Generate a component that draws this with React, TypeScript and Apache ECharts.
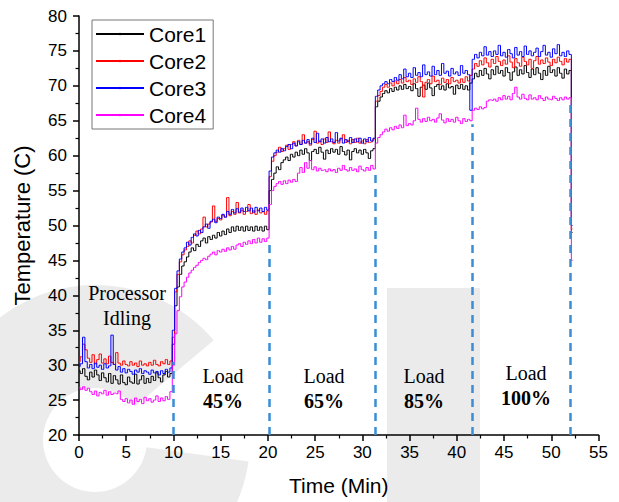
import React, { useEffect, useRef } from "react";
import * as echarts from "echarts";

// sampling step of the temperature log (minutes)
const SAMPLE_STEP_MIN = 0.25;

// ---- Core1 (black) ----
const core1Idle = [29.2,28.8,29.5,28.4,27.9,29.0,28.3,29.3,28.6,27.8, 28.9,28.2,27.6,28.8,27.4,28.5,27.9,27.3,28.6,27.5, 27.2,28.3,27.6,27.4,28.7,27.3,27.9,28.5,27.4,28.1, 27.5,28.4,27.8,28.9,28.2,27.6,28.6,29.1,28.3,28.8];
const core1Load45 = [33,38.5,41.2,43.0, 44.2,44.8,45.5,46.2, 46.8,46.4,47.3,47.0, 47.8,48.2,47.5,48.4, 48.0,48.6,48.2,49.0, 48.5,49.2,48.7,49.5, 49.0,49.8,49.2,49.9, 49.3,49.8,49.2,49.9, 49.3,49.8,49.2,49.9, 49.3,49.8,49.2,49.9, 49.4];
const core1Load65 = [55.0,56.6,57.5,58.4,58.0,59.0,59.4,59.8,59.3,60.2, 59.8,60.5,60.0,60.8,60.2,61.0,60.4,59.3,60.6,60.9, 60.3,61.2,60.5,59.5,60.8,60.3,61.0,60.5,60.9,60.2, 61.3,60.6,60.1,60.8,59.4,60.6,61.0,60.4,60.8,60.2, 60.9,60.4,59.6,60.7,61.0];
const core1Load85 = [67.0,67.8,68.4,68.9,69.3,69.0,69.6,69.2,69.8,69.4, 70.0,69.5,70.2,69.6,69.9,69.3,70.3,69.6,68.5,69.8, 70.1,69.5,70.4,69.7,68.6,69.9,70.2,69.5,70.0,69.4, 70.3,69.7,69.9,68.8,70.1,69.6,70.2,69.5,70.0,69.4, 70.4];
const core1Load100 = [71.0,71.8,71.3,72.2,71.5,72.5,71.7,71.0,72.3,71.6, 72.8,71.8,72.2,71.4,72.6,71.9,70.8,72.0,72.7,71.5, 72.3,71.7,72.9,71.9,71.2,72.4,71.6,72.6,71.8,70.9, 72.2,71.5,72.8,71.9,72.3,71.4,72.6,71.8,71.1,72.4, 71.7,72.2];
const core1After = [49.0];

// ---- Core2 (red) ----
const core2Idle = [30.5,31.2,33.0,32.2,31.0,30.4,31.5,30.2,30.8,31.6, 30.3,30.9,30.2,31.3,30.4,30.1,31.8,30.3,30.0,30.6, 30.1,29.9,30.5,30.0,30.3,29.8,30.6,30.0,30.2,29.9, 30.4,30.0,30.7,30.1,29.9,30.5,30.2,30.8,30.1,30.6];
const core2Load45 = [34,40.5,43.0,44.8, 45.8,46.5,47.0,47.8, 47.5,48.6,49.2,48.8, 49.5,51.2,49.8,50.2, 50.5,52.8,50.6,51.0, 50.8,51.5,51.2,54.0, 51.4,52.0,51.6,53.3, 51.8,52.2,51.6,52.0, 53.0,51.7,52.1,51.6, 52.2,51.8,52.0,51.6, 52.1];
const core2Load65 = [57.0,59.2,60.0,60.5,61.2,60.6,61.0,61.5,60.9,61.6, 62.0,61.4,62.2,61.6,63.0,61.8,62.0,61.5,62.3,63.5, 61.8,62.1,61.6,62.4,61.9,63.4,62.0,61.7,62.2,61.8, 62.4,63.0,61.9,62.2,61.7,62.3,61.9,62.5,61.8,62.1, 61.7,62.3,61.9,62.0,62.4];
const core2Load85 = [67.8,68.6,69.2,69.8,70.2,69.8,70.4,70.0,70.7,70.3, 70.9,70.4,71.2,70.6,70.8,70.2,71.0,70.5,71.3,70.6, 68.4,70.5,70.9,70.3,71.4,70.6,70.8,70.2,71.1,70.5, 70.9,70.3,71.2,70.6,70.8,70.4,71.0,70.5,71.3,70.7, 71.5];
const core2Load100 = [72.4,73.2,72.8,73.6,73.0,74.0,73.3,72.7,73.8,73.2, 74.2,73.5,72.9,73.7,73.1,74.3,73.4,72.6,73.9,73.3, 72.8,74.1,73.5,73.0,73.8,72.5,73.6,74.2,73.1,73.7, 73.2,74.0,73.4,72.9,73.8,73.3,74.1,73.5,73.0,73.9, 73.4,73.8];
const core2After = [49.5];

// ---- Core3 (blue) ----
const core3Idle = [29.8,30.2,34.0,30.5,29.6,30.1,29.5,30.3,29.7,30.0, 29.4,30.2,29.6,29.9,34.3,30.1,29.3,29.8,29.0,29.5, 28.9,29.4,29.1,28.7,29.3,29.0,29.5,28.8,29.2,29.0, 28.7,29.3,28.9,29.1,28.6,29.2,28.8,29.4,29.0,29.6];
const core3Load45 = [35,41,43.5,45.2, 46.2,46.8,47.6,47.2, 48.3,48.8,48.5,49.3, 49.0,49.8,50.2,49.6, 50.6,50.9,50.4,51.2, 51.0,51.6,51.2,52.0, 51.6,52.3,51.8,52.4, 51.9,52.5,52.0,52.6, 52.1,52.5,51.9,52.6, 52.1,52.5,52.0,52.6, 52.2];
const core3Load65 = [57.8,59.8,60.4,60.8,60.5,61.0,60.7,61.3,61.6,61.0, 61.8,61.4,62.0,61.6,62.2,61.8,62.3,61.7,62.5,61.9, 63.2,62.0,62.4,61.8,62.6,62.0,62.4,61.9,63.3,62.1, 62.5,61.8,62.3,62.0,62.6,61.9,62.4,62.0,62.5,61.8, 62.4,62.0,62.6,62.1,62.5];
const core3Load85 = [68.5,69.4,70.0,70.3,70.6,70.3,70.9,70.6,71.2,70.8, 71.6,71.0,72.4,71.3,71.8,71.2,72.6,71.5,71.9,71.3, 73.0,71.6,72.0,71.4,72.8,71.6,72.2,71.5,73.2,71.8, 72.1,71.4,72.5,71.7,72.0,71.5,72.9,71.8,72.2,71.6, 66.5];
const core3Load100 = [73.8,74.5,74.0,74.8,74.3,75.6,74.4,74.9,74.2,75.0, 74.5,75.8,74.3,74.8,74.1,75.2,74.6,74.0,75.5,74.4, 74.9,74.2,75.7,74.5,75.0,74.3,74.8,75.4,74.2,74.9, 75.8,74.4,74.8,74.1,75.3,74.6,75.9,74.3,74.8,74.2, 75.0,74.5];
const core3After = [50.0];

// ---- Core4 (magenta) ----
const core4Idle = [26.8,26.5,26.9,26.4,26.7,26.2,25.8,26.3,25.6,26.1, 25.9,26.4,25.7,26.2,25.8,26.0,25.9,26.3,25.1,24.8, 25.2,24.6,25.0,24.4,25.3,24.8,25.1,24.5,25.4,24.9, 25.2,24.7,25.0,25.6,24.8,25.3,24.9,25.5,25.1,26.2];
const core4Load45 = [30,34.5,37.8,39.8, 41.2,41.9,42.6,43.2, 43.6,44.0,44.3,44.7, 45.0,45.3,45.1,45.6, 45.9,46.2,45.8,46.4, 46.2,46.6,46.3,46.8, 46.5,47.0,46.6,47.2, 47.4,47.0,47.6,47.3, 47.8,47.4,48.0,47.5, 48.2,47.6,48.1,47.7, 48.2];
const core4Load65 = [53.0,55.0,55.6,56.0,56.3,55.9,56.4,56.0,56.5,56.2, 56.6,56.3,57.5,58.3,57.6,59.0,58.2,59.3,58.0,58.4, 57.8,58.2,57.9,58.0,57.7,58.1,57.8,58.0,57.6,58.2, 57.9,58.6,58.0,57.8,58.3,57.9,58.1,57.7,58.5,58.0, 57.8,58.3,57.9,58.6,58.1];
const core4Load85 = [61.8,62.6,63.0,63.4,63.8,63.5,64.0,63.7,64.2,63.9, 64.4,64.0,65.8,64.3,64.6,64.4,65.0,66.8,65.2,64.8, 65.3,64.9,65.5,65.0,65.2,64.8,65.4,66.0,65.1,64.7, 65.3,64.9,65.2,64.8,65.5,65.0,64.6,65.3,64.9,65.2, 65.0];
const core4Load100 = [66.5,66.8,66.6,67.0,66.7,66.9,67.8,68.0,67.9,68.1, 67.8,68.3,68.0,68.6,68.1,68.5,68.0,68.9,69.8,68.4, 68.1,68.8,68.2,68.0,68.7,68.1,68.3,68.0,68.6,68.2, 67.9,68.4,68.1,68.0,68.5,68.2,67.9,68.3,68.0,68.4, 68.1,68.3];
const core4After = [45.0];

const seriesNames = ["Core1", "Core2", "Core3", "Core4"];
const seriesColors = ["#000000", "#ff0000", "#0000ff", "#ff00ff"];

// load phase boundaries (minutes) and the height of their dashed markers (°C)
const loadStartsMin = [10, 20.1, 31.4, 41.6, 52.05];
const loadLineTops = [30.5, 48, 57.5, 64.5, 67.5];

const loadLabels = ["45%", "65%", "85%", "100%"];

const seriesValues = [
  [...core1Idle, ...core1Load45, ...core1Load65, ...core1Load85, ...core1Load100, ...core1After],
  [...core2Idle, ...core2Load45, ...core2Load65, ...core2Load85, ...core2Load100, ...core2After],
  [...core3Idle, ...core3Load45, ...core3Load65, ...core3Load85, ...core3Load100, ...core3After],
  [...core4Idle, ...core4Load45, ...core4Load65, ...core4Load85, ...core4Load100, ...core4After],
];

const SANS = "'Liberation Sans', Arial, sans-serif";
const SERIF = "'Liberation Serif', 'Times New Roman', serif";

export default function App() {
  const ref = useRef<HTMLDivElement>(null);

  useEffect(() => {
    if (!ref.current) return;
    const chart = echarts.init(ref.current, undefined, { renderer: "svg" });

    const lineSeries = seriesValues.map((vals, k) => ({
      name: seriesNames[k],
      type: "line",
      step: "middle",
      showSymbol: false,
      symbol: "circle",
      symbolSize: 2,
      color: seriesColors[k],
      lineStyle: { width: 1, color: seriesColors[k] },
      data: vals.map((v, i) => [i * SAMPLE_STEP_MIN, v]),
      z: 2 + k * 0.1,
    }));

    const loadLines = {
      name: "load",
      type: "line",
      data: [],
      silent: true,
      z: 5,
      markLine: {
        silent: true,
        symbol: ["none", "none"],
        label: { show: false },
        lineStyle: { type: [8, 6], color: "#3a8dd6", width: 2.5 },
        emphasis: { disabled: true },
        data: loadStartsMin.map((t, i) => [
          { coord: [t, 20] },
          { coord: [t, loadLineTops[i]] },
        ]),
      },
    };

    const percentPos = [
      [223, 376, 401],
      [324, 376, 401],
      [424, 376, 401],
      [526, 373, 398],
    ];

    const graphics: any[] = [
      // faint watermark behind the chart
      {
        type: "sector",
        z: -10,
        silent: true,
        shape: {
          cx: 95,
          cy: 440,
          r: 155,
          r0: 52,
          startAngle: (8 * Math.PI) / 180,
          endAngle: (320 * Math.PI) / 180,
          clockwise: true,
        },
        style: { fill: "#ebebeb" },
      },
      {
        type: "rect",
        z: -10,
        silent: true,
        shape: { x: 387, y: 288, width: 93, height: 214 },
        style: { fill: "#ebebeb" },
      },
      {
        type: "text",
        z: 50,
        x: 127,
        y: 293,
        style: { text: "Processor", font: `20px ${SERIF}`, fill: "#000", align: "center", verticalAlign: "middle" },
      },
      {
        type: "text",
        z: 50,
        x: 127,
        y: 318,
        style: { text: "Idling", font: `20px ${SERIF}`, fill: "#000", align: "center", verticalAlign: "middle" },
      },
    ];
    loadLabels.forEach((lab, i) => {
      const [cx, yLoad, yPct] = percentPos[i];
      graphics.push({
        type: "text",
        z: 50,
        x: cx,
        y: yLoad,
        style: { text: "Load", font: `20px ${SERIF}`, fill: "#000", align: "center", verticalAlign: "middle" },
      });
      graphics.push({
        type: "text",
        z: 50,
        x: cx,
        y: yPct,
        style: { text: lab, font: `bold 20px ${SERIF}`, fill: "#000", align: "center", verticalAlign: "middle" },
      });
    });

    const axisCommon = {
      axisLine: { show: true, lineStyle: { color: "#000", width: 1.5 } },
      axisTick: { show: true, inside: false, length: 6, lineStyle: { color: "#000", width: 1.5 } },
      minorTick: { show: true, splitNumber: 2, length: 3.5, lineStyle: { color: "#000", width: 1.2 } },
      splitLine: { show: false },
      minorSplitLine: { show: false },
    };

    chart.setOption({
      animation: false,
      backgroundColor: "#ffffff",
      textStyle: { fontFamily: SANS },
      grid: { left: 79, right: 20.5, top: 16, bottom: 67, containLabel: false },
      legend: {
        data: seriesNames,
        orient: "vertical",
        left: 92,
        top: 20,
        padding: [3.5, 7, 3.5, 3],
        itemWidth: 48,
        itemHeight: 3,
        itemGap: 6,
        borderColor: "#777",
        borderWidth: 1,
        backgroundColor: "#fff",
        textStyle: { fontSize: 21, lineHeight: 21, color: "#000", fontFamily: SANS },
      },
      xAxis: {
        type: "value",
        min: 0,
        max: 55,
        interval: 5,
        ...axisCommon,
        axisLabel: { color: "#000", fontSize: 17, margin: 9, fontFamily: SANS },
        name: "Time (Min)",
        nameLocation: "middle",
        nameGap: 40,
        nameTextStyle: { fontSize: 21, color: "#000", fontFamily: SANS },
      },
      yAxis: {
        type: "value",
        min: 20,
        max: 80,
        interval: 5,
        ...axisCommon,
        axisLabel: { color: "#000", fontSize: 17, margin: 12, fontFamily: SANS },
        name: "Temperature (C)",
        nameLocation: "middle",
        nameRotate: 90,
        nameGap: 46,
        nameTextStyle: { fontSize: 22, color: "#000", fontFamily: SANS },
      },
      graphic: graphics,
      series: [...lineSeries, loadLines],
    });

    return () => {
      chart.dispose();
    };
  }, []);

  return (
    <div
      ref={ref}
      style={{ position: "absolute", left: 0, top: 0, width: 619, height: 502 }}
    />
  );
}
